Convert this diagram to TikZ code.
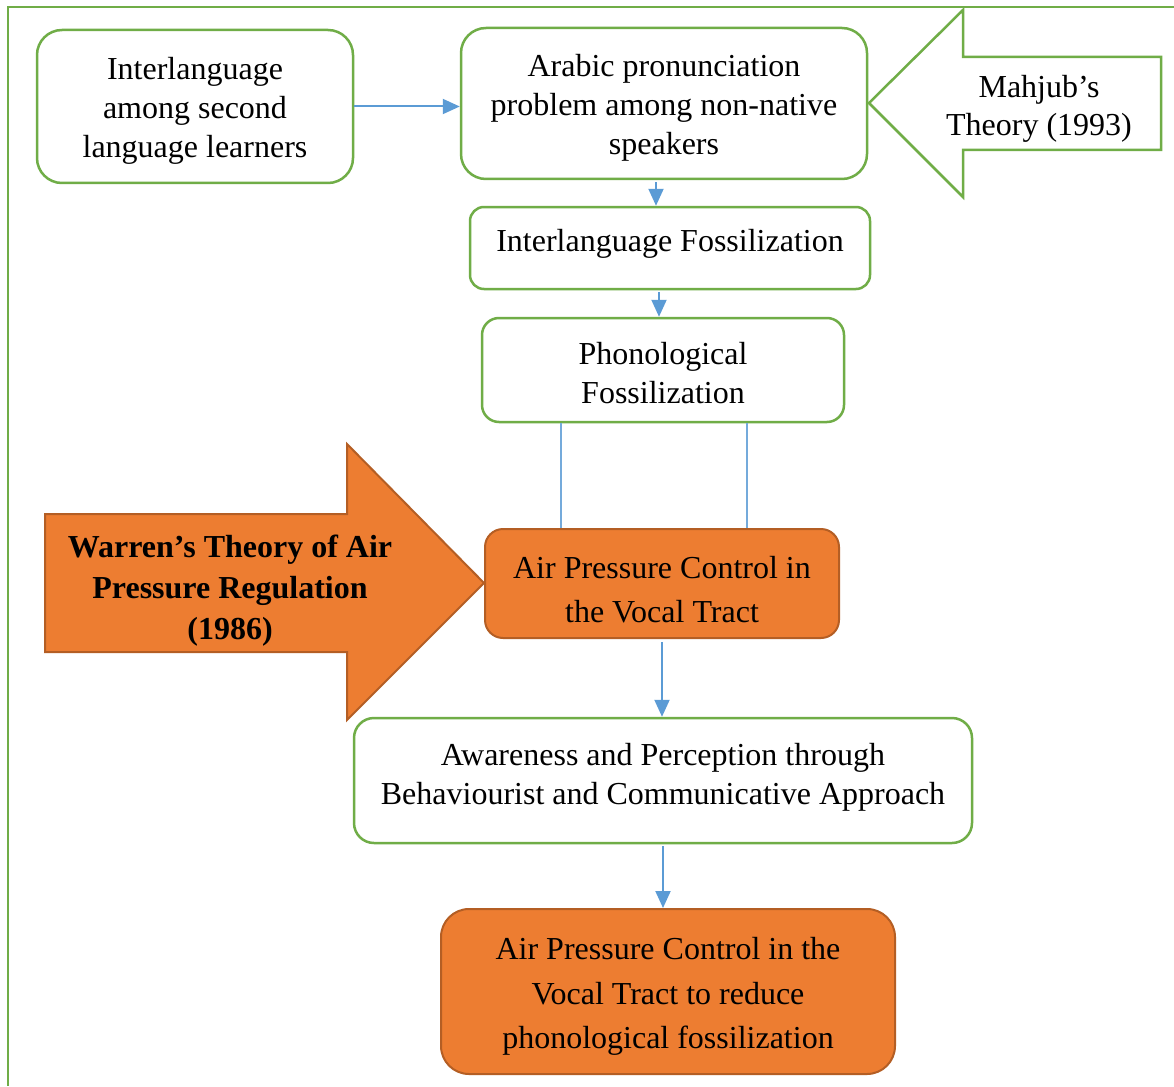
\documentclass[tikz,border=0pt]{standalone}
\usepackage{fontspec}
\setmainfont{Liberation Serif}
\usetikzlibrary{arrows.meta,calc}
\definecolor{ogreen}{HTML}{70AD47}
\definecolor{oblue}{HTML}{5B9BD5}
\definecolor{oorange}{HTML}{ED7D31}
\definecolor{oorangedark}{HTML}{B45E24}
% invisible struts that move a node's text down (first line) or up (last line)
\newcommand\tdown[1]{\rule{0pt}{#1}}
\newcommand\tup[1]{\rule[-#1]{0pt}{0pt}}
\begin{document}
\begin{tikzpicture}[x=1pt,y=-1pt,
  box/.style={draw=ogreen,line width=2.5pt,fill=white,align=center,inner sep=0pt,font=\fontsize{32}{39}\selectfont},
  obox/.style={draw=oorangedark,line width=2pt,fill=oorange,align=center,inner sep=0pt,font=\fontsize{32}{44.5}\selectfont},
  arr/.style={draw=oblue,line width=2pt,-{Triangle[length=17pt,width=15pt]}},
  thinline/.style={draw=oblue!85,line width=1.2pt},
  frame/.style={draw=ogreen,line width=2.5pt}]
\useasboundingbox[fill=white] (0,0) rectangle (1174,1086);
% outer frame
\draw[frame] (1174,7) -- (8,7) -- (8,1086);
% boxes
\node[box,rounded corners=25pt,minimum width=316pt,minimum height=153pt] (n1) at (195,106.5) {\tdown{30pt}Interlanguage\\among second\\language learners};
\node[box,rounded corners=25pt,minimum width=406pt,minimum height=151pt] (n2) at (664,103.5) {\tdown{31pt}Arabic pronunciation\\problem among non-native\\speakers};
\node[box,rounded corners=14pt,minimum width=400pt,minimum height=82pt] (n3) at (670,248) {Interlanguage Fossilization\tup{15pt}};
\node[box,rounded corners=17pt,minimum width=362pt,minimum height=104pt] (n4) at (663,370) {\tdown{28pt}Phonological\\Fossilization};
\node[obox,rounded corners=18pt,minimum width=354pt,minimum height=109pt] (n5) at (662,583.5) {\tdown{34pt}Air Pressure Control in\\the Vocal Tract};
\node[box,rounded corners=20pt,minimum width=618pt,minimum height=125pt] (n6) at (663,780.5) {Awareness and Perception through\\Behaviourist and Communicative Approach\tup{13pt}};
\node[obox,rounded corners=28pt,minimum width=454pt,minimum height=165pt] (n7) at (668,991.5) {\tdown{32pt}Air Pressure Control in the\\Vocal Tract to reduce\\phonological fossilization};
% Mahjub arrow
\draw[draw=ogreen,line width=2.5pt,fill=white] (869,103) -- (963,10) -- (963,57) -- (1161,57) -- (1161,150) -- (963,150) -- (963,197) -- cycle;
\node[align=center,inner sep=0pt,font=\fontsize{32}{37.5}\selectfont] (mah) at (1039,109) {Mahjub’s\\Theory (1993)};
% Warren arrow
\draw[draw=oorangedark,line width=2pt,fill=oorange] (45,514) -- (347,514) -- (347,444) -- (484,583) -- (347,720) -- (347,652) -- (45,652) -- cycle;
\node[align=center,inner sep=0pt,font=\bfseries\fontsize{32}{41}\selectfont] (war) at (230,591) {Warren’s Theory of Air\\Pressure Regulation\\(1986)};
% connectors
\draw[arr] (n1.east) -- (n1.east -| n2.west);
\draw[arr] ([xshift=-8pt,yshift=-2pt]n2.south) -- ([xshift=-8pt]n2.south |- n3.north);
\draw[arr] ([xshift=-11pt,yshift=-2pt]n3.south) -- ([xshift=-11pt]n3.south |- n4.north);
\draw[thinline] ([xshift=-102pt]n4.south) -- ([xshift=-102pt]n4.south |- n5.north);
\draw[thinline] ([xshift=84pt]n4.south) -- ([xshift=84pt]n4.south |- n5.north);
\draw[arr] ([yshift=-3pt]n5.south) -- (n5.south |- n6.north);
\draw[arr] ([yshift=-2pt]n6.south) -- (n6.south |- n7.north);
\end{tikzpicture}
\end{document}
